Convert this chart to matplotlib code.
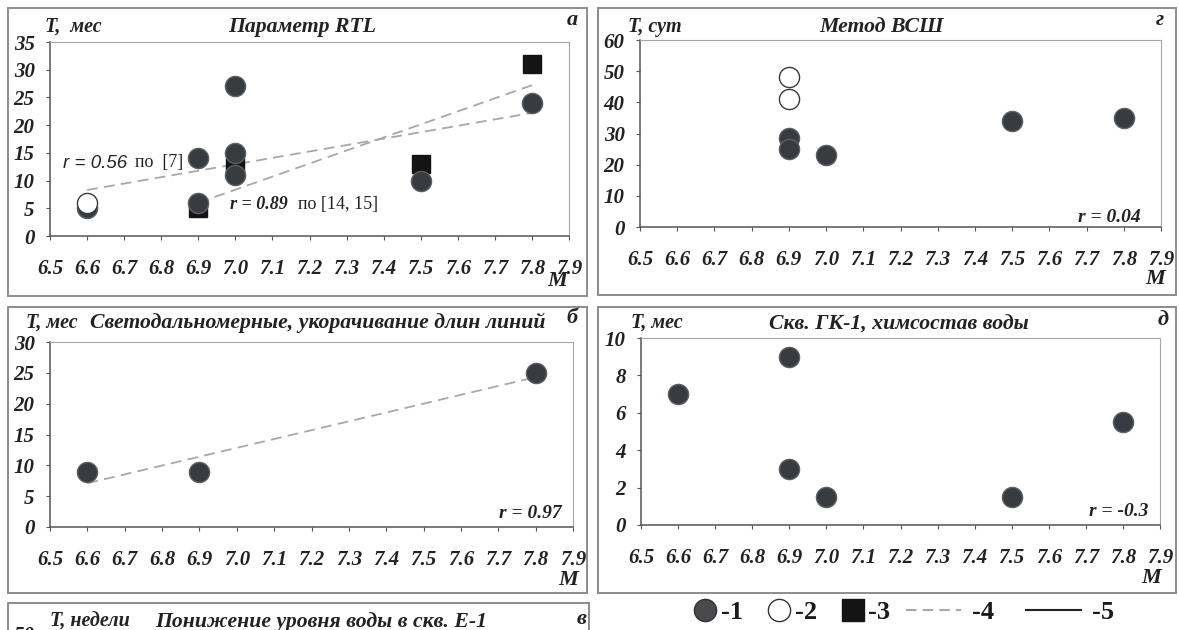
import matplotlib
matplotlib.use("Agg")
import matplotlib.pyplot as plt
from matplotlib.patches import Rectangle
from matplotlib.lines import Line2D

W, H = 1179, 630
SERIF = ["Liberation Serif", "DejaVu Serif"]
SANS = ["Liberation Sans", "DejaVu Sans"]

plt.rcParams["font.family"] = SERIF
plt.rcParams["font.weight"] = "bold"
plt.rcParams["font.style"] = "italic"

m_ticks = [6.5, 6.6, 6.7, 6.8, 6.9, 7.0, 7.1, 7.2, 7.3, 7.4, 7.5, 7.6, 7.7, 7.8, 7.9]

# а: Параметр RTL
a_dark_m = [6.6, 6.9, 6.9, 7.0, 7.0, 7.0, 7.5, 7.8]
a_dark_t = [5, 14, 6, 27, 15, 11, 10, 24]
a_open_m = [6.6]
a_open_t = [6]
a_sq_m = [6.9, 7.0, 7.5, 7.8]
a_sq_t = [5, 12.5, 13, 31]
a_fit1_m = [6.6, 7.8]
a_fit1_t = [8.3, 22.2]
a_fit2_m = [6.9, 7.8]
a_fit2_t = [6.0, 27.2]

# г: Метод ВСШ
g_dark_m = [6.9, 6.9, 7.0, 7.5, 7.8]
g_dark_t = [28.5, 25, 23, 34, 35]
g_open_m = [6.9, 6.9]
g_open_t = [48, 41]

# б: светодальномерные
b_dark_m = [6.6, 6.9, 7.8]
b_dark_t = [9, 9, 25]
b_fit_m = [6.6, 7.8]
b_fit_t = [7.1, 24.3]

# д: скв. ГК-1
d_dark_m = [6.6, 6.9, 6.9, 7.0, 7.5, 7.8]
d_dark_t = [7, 9, 3, 1.5, 1.5, 5.5]

DARK = dict(marker="o", ms=14.5, mfc="#383b40", mec="#5c5f64", mew=1, ls="none", zorder=4, clip_on=False)
OPEN = dict(marker="o", ms=14.5, mfc="white", mec="#3a3a3a", mew=1, ls="none", zorder=5, clip_on=False)
SQ = dict(marker="s", ms=13, mfc="#141414", mec="#141414", ls="none", zorder=3, clip_on=False)
FIT = dict(color="#a8a8a8", lw=1.3, ls=(0, (6, 3.5)), zorder=2)

fig = plt.figure(figsize=(W / 100, H / 100), dpi=100)


def fx(x):
    return x / W


def fy(y):
    return 1 - y / H


def box(l, t, r, b):
    fig.patches.append(Rectangle((fx(l), fy(b)), fx(r - l), (b - t) / H,
                                 transform=fig.transFigure, fill=False,
                                 ec="#8c8c8c", lw=1.4))


def txt(x, y, s, size=14.5, ha="left", **kw):
    fig.text(fx(x), fy(y), s, fontsize=size, ha=ha, va="center", color="#222", **kw)


def panel(l, t, r, b, ymax, ystep):
    ax = fig.add_axes([fx(l), fy(b), fx(r - l), (b - t) / H])
    ax.set_xlim(6.5, 7.9)
    ax.set_ylim(0, ymax)
    ax.set_xticks(m_ticks)
    ax.set_xticklabels([f"{v:.1f}" for v in m_ticks])
    ax.set_yticks(range(0, ymax + 1, ystep))
    for s in ("top", "right"):
        ax.spines[s].set_color("#a5a5a5")
    for s in ("left", "bottom"):
        ax.spines[s].set_color("#555")
        ax.spines[s].set_linewidth(1.1)
    ax.tick_params(axis="x", direction="out", length=3, color="#555", pad=13.5,
                   labelsize=15, labelcolor="#222")
    ax.tick_params(axis="y", direction="out", length=3, color="#555", pad=8,
                   labelsize=15, labelcolor="#222")
    return ax


# ---- panel а
box(8, 8, 587, 296)
ax = panel(50, 42, 569, 236, 35, 5)
ax.plot(a_sq_m, a_sq_t, **SQ)
ax.plot(a_dark_m, a_dark_t, **DARK)
ax.plot(a_open_m, a_open_t, **OPEN)
ax.plot(a_fit1_m, a_fit1_t, **FIT)
ax.plot(a_fit2_m, a_fit2_t, **FIT)
txt(45, 27, "T,  мес")
txt(302, 27, "Параметр RTL", size=15.7, ha="center")
txt(567, 20, "а", size=16)
txt(547, 281, "M", size=16)
txt(63, 163, "r = 0.56", size=13.5, family=SANS, weight="normal")
txt(135, 163, "по  [7]", size=13, weight="normal", style="normal")
txt(230, 205, "r = 0.89", size=13)
txt(298, 205, "по [14, 15]", size=13, weight="normal", style="normal")

# ---- panel г
box(598, 8, 1176, 295)
ax = panel(640, 40, 1161, 227, 60, 10)
ax.plot(g_dark_m, g_dark_t, **DARK)
ax.plot(g_open_m, g_open_t, **OPEN)
txt(628, 27, "T, сут")
txt(882, 27, "Метод ВСШ", size=15.7, ha="center")
txt(1156, 20, "г", size=16)
txt(1145, 279, "M", size=16)
txt(1141, 217, "r = 0.04", size=14, ha="right")

# ---- panel б
box(8, 307, 587, 593)
ax = panel(50, 342, 573, 527, 30, 5)
ax.plot(b_dark_m, b_dark_t, **DARK)
ax.plot(b_fit_m, b_fit_t, **FIT)
txt(26, 323, "T, мес")
txt(318, 323, "Светодальномерные, укорачивание длин линий", size=15.7, ha="center")
txt(566, 318, "б", size=16)
txt(558, 580, "M", size=16)
txt(562, 513, "r = 0.97", size=14, ha="right")

# ---- panel д
box(598, 307, 1176, 593)
ax = panel(641, 338, 1160, 525, 10, 2)
ax.plot(d_dark_m, d_dark_t, **DARK)
txt(631, 323, "T, мес")
txt(899, 325, "Скв. ГК-1, химсостав воды", size=15.7, ha="center")
txt(1158, 320, "д", size=16)
txt(1141, 578, "M", size=16)
txt(1148, 512, "r = -0.3", size=14, ha="right")

# ---- panel в (cut off at the bottom)
box(8, 603, 589, 660)
txt(50, 622, "T, недели")
txt(321, 622, "Понижение уровня воды в скв. Е-1", size=15.7, ha="center")
txt(577, 619, "в", size=16)
txt(24, 636, "50", size=15, ha="center")

# ---- legend
lab_font = dict(family=SERIF, weight="bold", style="normal", size=19)
h_mark = [Line2D([], [], marker="o", ms=16, mfc="#4a4a4e", mec="#333", ls="none"),
          Line2D([], [], marker="o", ms=16, mfc="white", mec="#333", ls="none"),
          Line2D([], [], marker="s", ms=16, mfc="#141414", mec="#141414", ls="none")]
fig.legend(h_mark, ["-1", "-2", "-3"], ncol=3, frameon=False, prop=lab_font,
           loc="center", bbox_to_anchor=(fx(792), fy(612)),
           handlelength=0.9, handletextpad=0.15, columnspacing=0.9,
           labelcolor="#1a1a1a")
h_line = [Line2D([], [], color="#a8a8a8", lw=1.5, ls=(0, (5, 3))),
          Line2D([], [], color="#222", lw=1.5)]
fig.legend(h_line, ["-4", "-5"], ncol=2, frameon=False, prop=lab_font,
           loc="center", bbox_to_anchor=(fx(1010), fy(612)),
           handlelength=2.1, handletextpad=0.4, columnspacing=1.2,
           labelcolor="#1a1a1a")

fig.savefig("out.png", dpi=100)
